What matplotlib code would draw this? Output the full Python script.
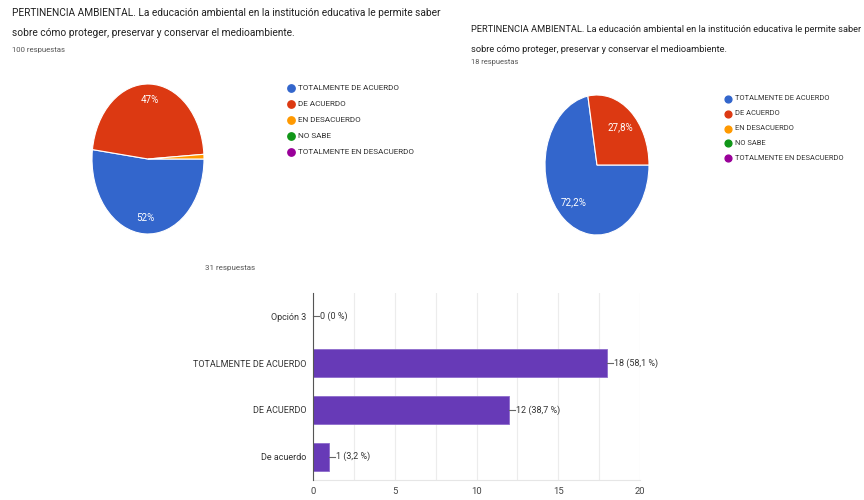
import matplotlib
matplotlib.use('Agg')
import matplotlib.pyplot as plt
from matplotlib.ticker import MultipleLocator

plt.rcParams['font.family'] = ['Roboto', 'DejaVu Sans']

W, H = 864, 500

title_l1 = "PERTINENCIA AMBIENTAL. La educación ambiental en la institución educativa le permite saber"
title_l2 = "sobre cómo proteger, preservar y conservar el medioambiente."

pie_categories = ["TOTALMENTE DE ACUERDO", "DE ACUERDO", "EN DESACUERDO",
                  "NO SABE", "TOTALMENTE EN DESACUERDO"]
pie_colors = ["#3366cc", "#dc3912", "#ff9900", "#109618", "#990099"]

pie1_values = [52, 47, 1, 0, 0]
pie1_responses = "100 respuestas"
pie2_values = [72.2, 27.8, 0, 0, 0]
pie2_responses = "18 respuestas"

bar_categories = ["Opción 3", "TOTALMENTE DE ACUERDO", "DE ACUERDO", "De acuerdo"]
bar_values = [0, 18, 12, 1]
bar_labels = ["0 (0 %)", "18 (58,1 %)", "12 (38,7 %)", "1 (3,2 %)"]
bar_responses = "31 respuestas"
bar_ticks = [0, 5, 10, 15, 20]

TEXT = "#222222"
SUB = "#555555"

fig = plt.figure(figsize=(W / 100, H / 100), dpi=100)
fig.patch.set_facecolor('white')


def px_rect(left, top, width, height):
    return [left / W, (H - top - height) / H, width / W, height / H]


def draw_pie(cx, cy, rx, ry, values, fmt, pctdist):
    ax = fig.add_axes(px_rect(cx - rx, cy - ry, 2 * rx, 2 * ry))
    vals = [v for v in values if v > 0]
    cols = [c for v, c in zip(values, pie_colors) if v > 0]
    ax.pie(vals, colors=cols, startangle=0, counterclock=False,
           wedgeprops=dict(edgecolor='white', linewidth=0.8),
           autopct=fmt, pctdistance=pctdist,
           textprops=dict(color='white', fontsize=7))
    ax.set_aspect('auto')
    ax.set_xlim(-1.0, 1.0)
    ax.set_ylim(-1.0, 1.0)
    ax.axis('off')
    return ax


draw_pie(148, 159, 56, 75, pie1_values,
         lambda p: f"{p:.0f}%" if p >= 5 else "", 0.79)
draw_pie(597, 165, 52, 70, pie2_values,
         lambda p: (f"{p:.1f}%".replace('.', ',')) if p >= 5 else "", 0.70)

# bar chart
bx = fig.add_axes(px_rect(313, 293, 327, 187))
ypos = list(range(len(bar_categories)))
bx.barh(ypos, bar_values, height=0.6, color='#673ab7', edgecolor='#8e6bcc',
        linewidth=0.6, zorder=3)
bx.set_ylim(len(bar_categories) - 0.5, -0.5)
bx.set_xlim(bar_ticks[0], bar_ticks[-1])
bx.set_yticks(ypos)
bx.set_yticklabels(bar_categories, fontsize=6.5, color='#333333')
bx.set_xticks(bar_ticks)
bx.set_xticklabels([str(t) for t in bar_ticks], fontsize=6.8, color='#444444')
bx.xaxis.set_minor_locator(MultipleLocator(2.5))
bx.grid(True, axis='x', which='both', color='#ececec', linewidth=0.8, zorder=0)
bx.tick_params(axis='both', which='both', length=0)
bx.tick_params(axis='y', pad=5)
bx.tick_params(axis='x', pad=5)
for s in ['top', 'right']:
    bx.spines[s].set_visible(False)
bx.spines['bottom'].set_color('#e6e6e6')
bx.spines['bottom'].set_linewidth(0.8)
bx.spines['left'].set_color('#555555')
bx.spines['left'].set_linewidth(0.8)
bx.spines['left'].set_zorder(4)
for y, v, lab in zip(ypos, bar_values, bar_labels):
    bx.plot([v, v + 0.35], [y, y], color='#666666', linewidth=0.8, zorder=4,
            clip_on=False)
    bx.text(v + 0.4, y, lab, va='center', ha='left', fontsize=6.5,
            color='#333333', clip_on=False)

# overlay for titles and legends
ov = fig.add_axes([0, 0, 1, 1])
ov.set_xlim(0, W)
ov.set_ylim(H, 0)
ov.axis('off')
ov.patch.set_alpha(0)

ov.text(12, 13, title_l1, fontsize=7.3, color=TEXT, va='center', ha='left')
ov.text(12, 33, title_l2, fontsize=7.3, color=TEXT, va='center', ha='left')
ov.text(12, 50, pie1_responses, fontsize=5.6, color=SUB, va='center', ha='left')

ov.text(471, 29, title_l1, fontsize=6.65, color=TEXT, va='center', ha='left')
ov.text(471, 49, title_l2, fontsize=6.65, color=TEXT, va='center', ha='left')
ov.text(471, 63, pie2_responses, fontsize=5.4, color=SUB, va='center', ha='left')

ov.text(205, 268, bar_responses, fontsize=5.8, color=SUB, va='center', ha='left')


def draw_legend(x, y0, dy, fs, ms):
    for i, (lab, col) in enumerate(zip(pie_categories, pie_colors)):
        y = y0 + i * dy
        ov.scatter([x], [y], s=ms, color=col, zorder=5)
        ov.text(x + 7, y, lab, fontsize=fs, color='#333333', va='center',
                ha='left')


draw_legend(291, 88, 16, 5.9, 28)
draw_legend(728, 99, 14.8, 5.4, 24)

fig.savefig('out.png', dpi=100, facecolor='white')
